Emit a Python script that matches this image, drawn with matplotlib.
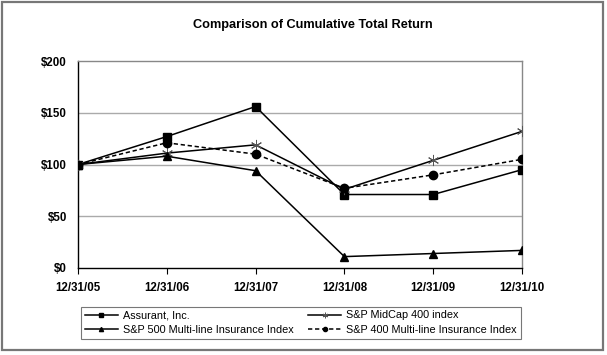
import matplotlib.pyplot as plt
from matplotlib.patches import Rectangle

plt.rcParams['font.family'] = ['Liberation Sans', 'DejaVu Sans']

dates = ['12/31/05', '12/31/06', '12/31/07', '12/31/08', '12/31/09', '12/31/10']
assurant = [100, 127, 156, 71, 71, 95]
midcap400 = [100, 111, 119, 76, 104, 132]
sp500_multiline = [100, 108, 94, 11, 14, 17]
sp400_multiline = [100, 121, 110, 77, 90, 105]
yticks = [0, 50, 100, 150, 200]

fig = plt.figure(figsize=(6.07, 3.55), dpi=100)
ax = fig.add_axes([78/607, 1-268/355, 444/607, 207/355])

x = range(len(dates))
l1, = ax.plot(x, assurant, color='black', lw=1.1, marker='s', ms=6, zorder=4)
l2, = ax.plot(x, midcap400, color='black', lw=1.1, marker=(6, 2, 0), ms=8,
              mec='#555555', mew=0.7, zorder=4)
l3, = ax.plot(x, sp500_multiline, color='black', lw=1.1, marker='^', ms=6, zorder=4)
l4, = ax.plot(x, sp400_multiline, color='black', lw=1.1, ls=(0, (2.8, 1.8)),
              marker='o', ms=6, zorder=4)

ax.set_xlim(0, len(dates) - 1)
ax.set_ylim(0, 200)
ax.set_xticks(list(x))
ax.set_xticklabels(dates, fontsize=8.3, fontweight='bold')
ax.set_yticks(yticks)
ax.set_yticklabels(['$%d' % v for v in yticks], fontsize=8.3, fontweight='bold')
ax.tick_params(axis='x', length=4, width=0.8, pad=6)
ax.tick_params(axis='y', length=0, pad=8)
for v in yticks[1:-1]:
    ax.axhline(v, color='#aaaaaa', lw=1, zorder=1)
for s in ['top', 'right']:
    ax.spines[s].set_color('#888888')
    ax.spines[s].set_linewidth(1)
for s in ['left', 'bottom']:
    ax.spines[s].set_color('black')
    ax.spines[s].set_linewidth(1)
ax.spines['bottom'].set_zorder(5)

fig.text(313/607, 1-25/355, 'Comparison of Cumulative Total Return',
         ha='center', va='center', fontsize=9.2, fontweight='bold')

leg = fig.legend([l1, l3, l2, l4],
                 ['Assurant, Inc.', 'S&P 500 Multi-line Insurance Index',
                  'S&P MidCap 400 index', 'S&P 400 Multi-line Insurance Index'],
                 ncol=2, loc='lower left', mode='expand',
                 bbox_to_anchor=(76/607, 1-344/355, 450/607, 37/355),
                 fontsize=7.8, fancybox=False, edgecolor='#555555',
                 handlelength=3.0, markerscale=0.5, borderpad=0.35,
                 labelspacing=0.4, handletextpad=0.5, columnspacing=1.0)
leg.get_frame().set_linewidth(0.8)

fig.patches.append(Rectangle((2/607, 1-350/355), 601/607, 348/355,
                             transform=fig.transFigure, fill=False,
                             edgecolor='#777777', lw=1.6))

fig.savefig('out.png', dpi=100)
